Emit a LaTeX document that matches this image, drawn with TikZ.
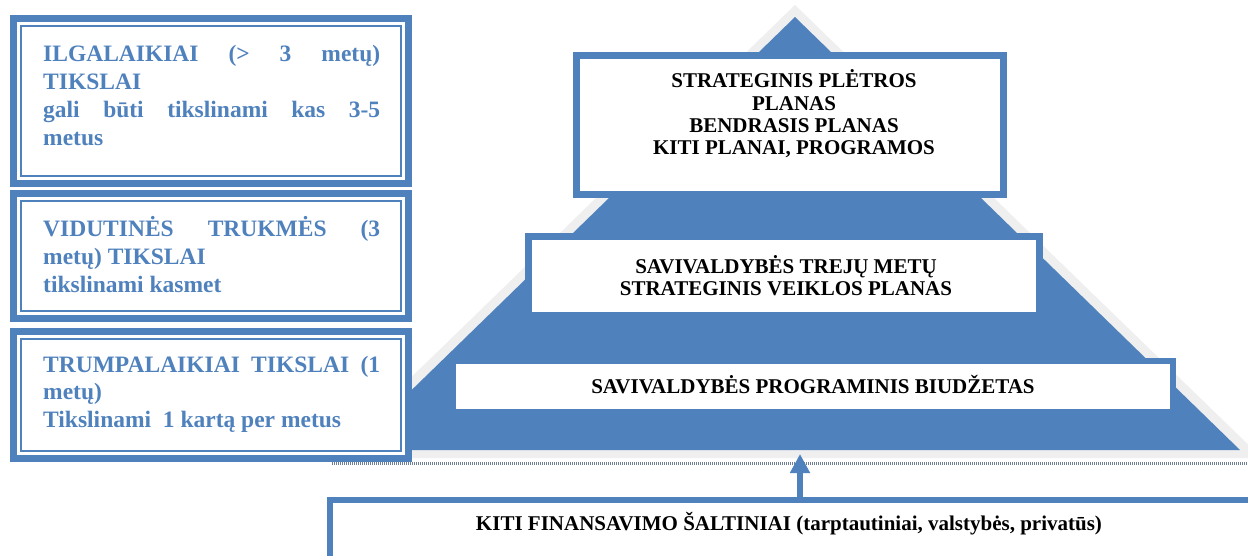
\documentclass[tikz,border=0pt]{standalone}
\usepackage{fontspec}
\setmainfont{Liberation Serif}
\usetikzlibrary{arrows.meta}
\definecolor{bl}{HTML}{4F81BD}
\definecolor{shad}{HTML}{EFEFEF}
\definecolor{dots}{HTML}{6F7F98}
\tikzset{
  leftbox/.style={draw=bl, line width=7pt, fill=white, inner sep=0pt, outer sep=0pt, minimum width=395pt},
  rightbox/.style={draw=bl, line width=7pt, fill=white, inner sep=0pt, outer sep=0pt},
  bluetext/.style={inner sep=0pt, anchor=base west, text=bl, font=\fontsize{23.5}{27.8}\selectfont\bfseries},
  blacktext/.style={inner sep=0pt, anchor=base, text=black, font=\fontsize{21}{22.3}\selectfont\bfseries},
}
\begin{document}
\begin{tikzpicture}[x=1pt,y=-1pt]
\useasboundingbox (0,0) rectangle (1248,556);
\fill[white] (0,0) rectangle (1248,556);
% pyramid with light shadow
\fill[shad] (795,5) -- (1262,458) -- (328,458) -- cycle;
\fill[bl] (795,17) -- (1240,450) -- (350,450) -- cycle;
\draw[dots, line width=3pt, dash pattern=on 1pt off 1pt] (332,463) -- (1248,463);
% right boxes
\node[rightbox, minimum width=427pt, minimum height=139pt] (bA) at (790,125) {};
\node[rightbox, minimum width=511pt, minimum height=79pt] (bB) at (784,276) {};
\node[rightbox, line width=6pt, minimum width=720pt, minimum height=51pt] (bC) at (813,386.5) {};
\node[blacktext] (tA) at (794,88) {\parbox[t]{430pt}{\centering STRATEGINIS PLĖTROS\\ PLANAS\\ BENDRASIS PLANAS\\ KITI PLANAI, PROGRAMOS}};
\node[blacktext] (tB) at (786,273) {\parbox[t]{500pt}{\centering SAVIVALDYBĖS TREJŲ METŲ\\ STRATEGINIS VEIKLOS PLANAS}};
\node[blacktext] (tC) at (813,393) {SAVIVALDYBĖS PROGRAMINIS BIUDŽETAS};
% left boxes
\node[leftbox, minimum height=165pt] (b1) at (211,101) {};
\draw[bl, line width=2pt] ([shift={(7.5,7.5)}]b1.north west) rectangle ([shift={(-7.5,-7.5)}]b1.south east);
\node[leftbox, minimum height=125pt] (b2) at (211,256) {};
\draw[bl, line width=2pt] ([shift={(7.5,7.5)}]b2.north west) rectangle ([shift={(-7.5,-7.5)}]b2.south east);
\node[leftbox, minimum height=127pt] (b3) at (211,395) {};
\draw[bl, line width=2pt] ([shift={(7.5,7.5)}]b3.north west) rectangle ([shift={(-7.5,-7.5)}]b3.south east);
\node[bluetext] (t1) at (43,62) {\parbox[t]{337pt}{ILGALAIKIAI (> 3 metų)\linebreak TIKSLAI\par gali būti tikslinami kas 3-5\linebreak metus}};
\node[bluetext] (t2) at (43,237) {\parbox[t]{337pt}{VIDUTINĖS TRUKMĖS (3\linebreak metų) TIKSLAI\par tikslinami kasmet}};
\node[bluetext] (t3) at (43,372) {\parbox[t]{337pt}{TRUMPALAIKIAI TIKSLAI (1\linebreak metų)\par Tikslinami~ 1 kartą per metus}};
% bottom box and arrow
\node[rightbox, line width=6pt, minimum width=940pt, minimum height=120pt] (fin) at (800,560) {};
\node[blacktext] (tD) at (789,530) {KITI FINANSAVIMO ŠALTINIAI (tarptautiniai, valstybės, privatūs)};
\coordinate (pbase) at (800,454);
\draw[bl, line width=6pt, -{Triangle[width=19pt,length=19pt]}] (fin.north) -- (pbase);
\end{tikzpicture}
\end{document}
